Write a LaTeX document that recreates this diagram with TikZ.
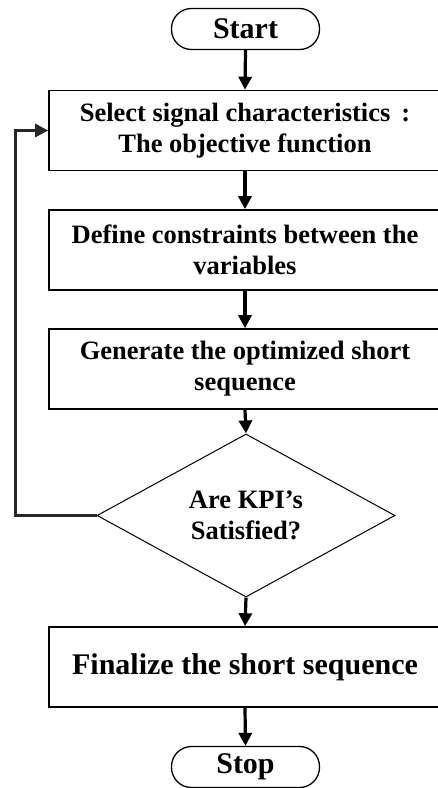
\documentclass[tikz,border=0pt]{standalone}
\usepackage{fontspec}
\setmainfont{Liberation Serif}
\usetikzlibrary{arrows.meta,shapes.geometric}

\begin{document}
\begin{tikzpicture}[
  x=1pt, y=1pt,
  font=\bfseries\fontsize{26.5}{31}\selectfont,
  terminal/.style={
    draw=black,
    line width=1.3pt,
    rounded corners=20pt,
    minimum width=148pt,
    minimum height=41pt,
    inner sep=0pt,
    font=\bfseries\fontsize{30}{36}\selectfont
  },
  stepbox/.style={
    draw=black,
    line width=1.6pt,
    minimum width=392pt,
    minimum height=80pt,
    align=center,
    inner sep=0pt
  },
  decision/.style={
    draw=black,
    diamond,
    line width=1pt,
    minimum width=298pt,
    minimum height=137pt,
    align=center,
    inner sep=0pt
  },
  arrow/.style={-{Triangle[length=13pt,width=13pt]}, line width=3.2pt, draw=black},
  backline/.style={-{Triangle[length=13pt,width=13pt]}, line width=3pt, draw=black!85}
]

\useasboundingbox (0,0) rectangle (438,-788);

\node[terminal] (start) at (245.5,-29) {Start};

\node[stepbox] (select) at (245,-130.5)
  {Select signal characteristics \,:\\ The objective function};

\node[stepbox] (constraints) at (245,-250)
  {Define constraints between the\\ variables};

\node[stepbox] (generate) at (245,-369)
  {Generate the optimized short\\ sequence};

\node[decision] (kpi) at (246,-515.5)
  {Are KPI’s\\ Satisfied?};

\node[stepbox, font=\bfseries\fontsize{30}{36}\selectfont] (finalize) at (245,-667)
  {Finalize the short sequence};

\node[terminal] (stop) at (245.5,-767) {Stop};

\coordinate (back) at (15,-515.5);

\draw[arrow] (start.south) -- (select.north);
\draw[arrow] (select.south) -- (constraints.north);
\draw[arrow] (constraints.south) -- (generate.north);
\draw[arrow] (generate.south) -- (kpi.north);
\draw[arrow] (kpi.south) -- (finalize.north);
\draw[arrow] (finalize.south) -- (stop.north);
\draw[backline] (kpi.west) -- (back) |- (select.west);

\end{tikzpicture}
\end{document}
